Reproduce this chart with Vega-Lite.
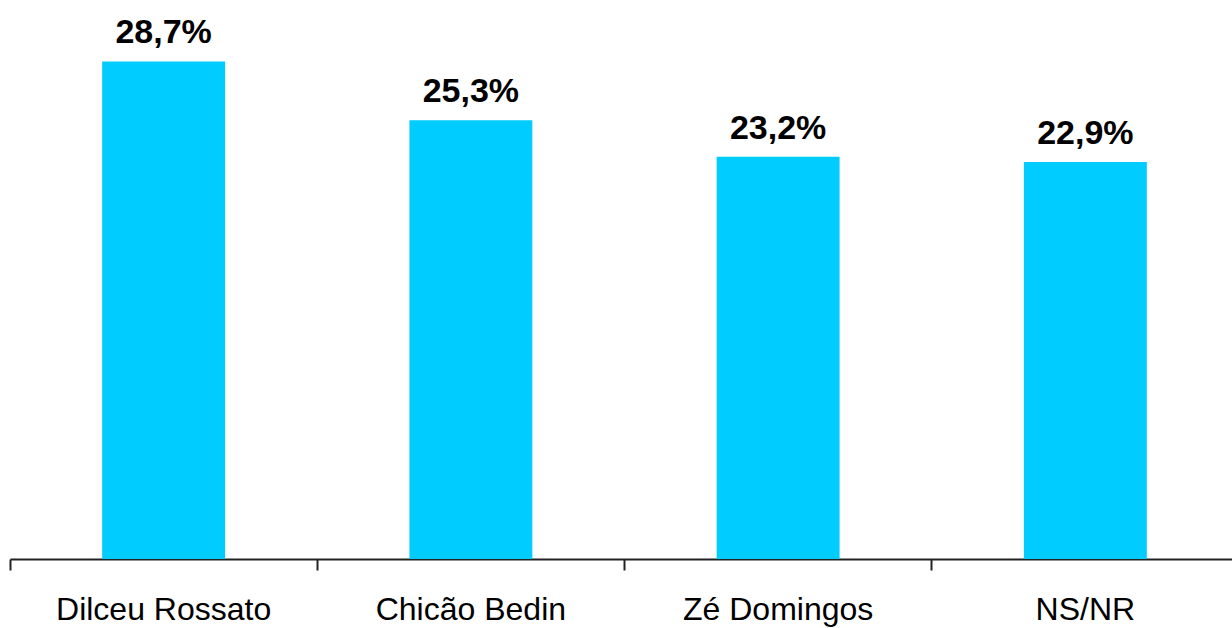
{
  "$schema": "https://vega.github.io/schema/vega-lite/v6.json",
  "autosize": "none",
  "width": 1229,
  "height": 559,
  "padding": {"left": 10, "top": 0, "right": 0, "bottom": 69},
  "background": "white",
  "config": {"view": {"stroke": null}},
  "data": {"values": [
    {"nome": "Dilceu Rossato", "valor": 28.7, "rotulo": "28,7%"},
    {"nome": "Chicão Bedin", "valor": 25.3, "rotulo": "25,3%"},
    {"nome": "Zé Domingos", "valor": 23.2, "rotulo": "23,2%"},
    {"nome": "NS/NR", "valor": 22.9, "rotulo": "22,9%"}
  ]},
  "encoding": {
    "x": {"field": "nome", "type": "nominal", "sort": null,
      "scale": {"paddingInner": 0, "paddingOuter": 0},
      "axis": {"title": null, "labelAngle": 0, "bandPosition": 0, "labelLimit": 0,
        "labelFont": "Liberation Sans", "labelFontSize": 32, "labelColor": "black",
        "labelBaseline": "alphabetic", "labelPadding": 49,
        "tickSize": 11, "tickWidth": 2, "tickColor": "#222",
        "domainWidth": 2, "domainColor": "#222", "grid": false}},
    "y": {"field": "valor", "type": "quantitative",
      "scale": {"domain": [0, 32.24], "nice": false, "zero": true},
      "axis": null}
  },
  "layer": [
    {"mark": {"type": "bar", "color": "#00CCFF", "width": {"band": 0.4}}},
    {"mark": {"type": "text", "font": "Liberation Sans", "fontSize": 34, "fontWeight": "bold",
      "baseline": "alphabetic", "dy": -18, "color": "black"},
     "encoding": {"text": {"field": "rotulo"}}}
  ]
}
